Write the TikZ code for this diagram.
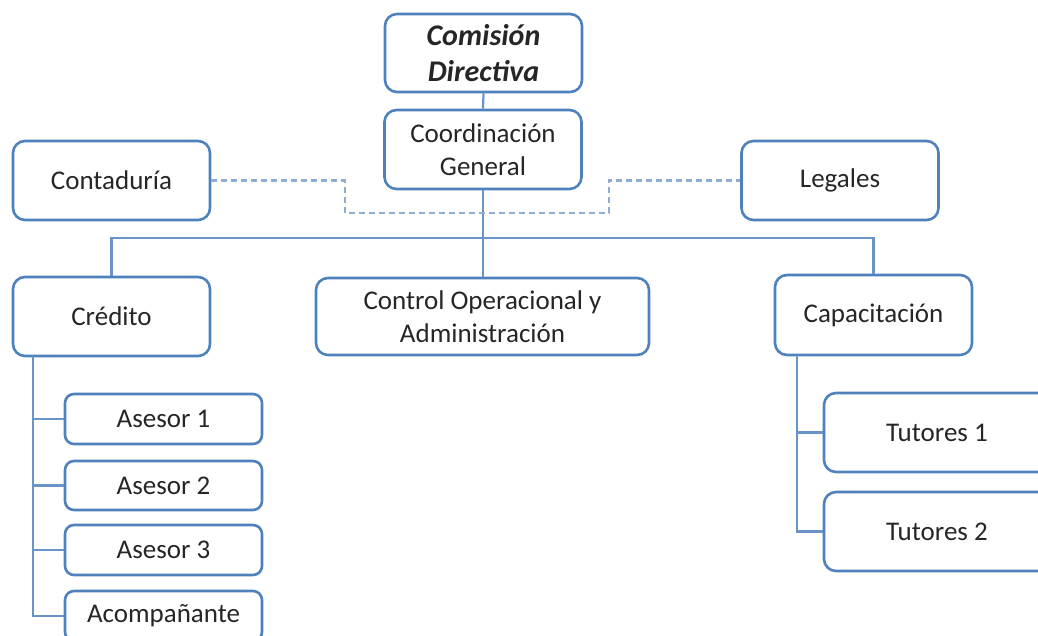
\documentclass[tikz,border=0pt]{standalone}
\usepackage{fontspec}
\setmainfont{Carlito}
\usepackage{tikz}
\usetikzlibrary{positioning}
\usepackage{xcolor}
\definecolor{org blue}{RGB}{79,129,189}
\colorlet{link blue}{org blue!85}

\begin{document}
\begin{tikzpicture}[x=1pt, y=-1pt,
		box/.style={draw=org blue, line width=2.6pt, rounded corners=12pt, fill=white,
			align=center, inner sep=0pt, text=black!85,
			font=\fontsize{27}{33}\selectfont, minimum width=197pt, minimum height=79pt},
		smallbox/.style={box, rounded corners=9pt, minimum height=50pt},
		link/.style={draw=link blue, line width=2.2pt},
		dashlink/.style={link, draw=org blue!65, dash pattern=on 6pt off 4pt}]
			\useasboundingbox (0,0) rectangle (1038,636);
			% top of the chart
			\node[box, minimum height=78pt, font=\fontsize{30}{36}\selectfont\bfseries\itshape] (cd) at (483.5, 53){Comisión\\Directiva};
			\node[box] (cg) at (483, 149.5){Coordinación\\General};
			\node[box] (cont) at (111.5, 180.5){Contaduría};
			\node[box] (leg) at (840, 180.5){Legales};
			% second level
			\node[box] (cred) at (111.5, 316.5){Crédito};
			\node[box, minimum width=333pt, minimum height=77pt] (ctrl) at (482.5, 316.5){Control Operacional y\\Administración};
			\node[box, minimum height=80pt] (cap) at (873.5, 315){Capacitación};
			% under Crédito
			\node[smallbox] (as1) at (163.5, 419){Asesor 1};
			\node[smallbox, minimum height=49pt] (as2) at (163.5, 485.5){Asesor 2};
			\node[smallbox] (as3) at (163.5, 550){Asesor 3};
			\node[smallbox] (acomp) at (163.5, 616){Acompañante};
			% under Capacitación
			\node[box, minimum width=226pt] (tut1) at (937, 432.5){Tutores 1};
			\node[box, minimum width=226pt] (tut2) at (937, 531.5){Tutores 2};
			% connectors
			\coordinate (bar) at (482, 238);
			\coordinate (dl) at (345, 213);
			\coordinate (dr) at (609, 213);
			\coordinate (credspine) at (33, 356);
			\coordinate (capspine) at (797, 355);
			\draw[link] (cd.south) -- (cg.north);
			\draw[link] (cg.south) -- (cg.south |- ctrl.north);
			\draw[link] (cred.north) |- (bar) -| (cap.north);
			\draw[dashlink] (cont.east) -| (dl) -- (dr) |- (leg.west);
			\foreach \n in {as1, as2, as3, acomp}
				\draw[link] (credspine) |- (\n.west);
			\foreach \n in {tut1, tut2}
				\draw[link] (capspine) |- (\n.west);
		\end{tikzpicture}
\end{document}
